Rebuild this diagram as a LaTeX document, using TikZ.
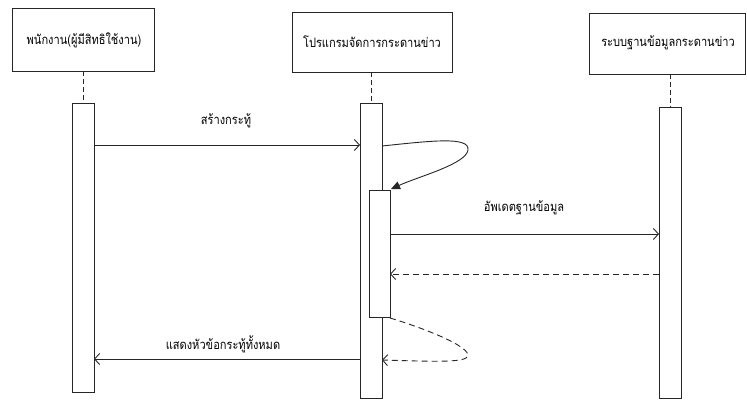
\documentclass[tikz,border=0pt]{standalone}
\usepackage{fontspec}
\newfontfamily\thaifont[Script=Thai,FakeStretch=0.85]{Loma}
\usetikzlibrary{arrows.meta}
\tikzset{
  actor/.style={draw=black!85,line width=0.9pt,fill=white,inner sep=0pt},
  act/.style={draw=black!85,line width=0.9pt,fill=white},
  life/.style={draw=black!85,line width=0.9pt,dash pattern=on 5pt off 3pt},
  msg/.style={draw=black!85,line width=0.9pt,-{Straight Barb[length=5pt,width=11pt]}},
  ret/.style={msg,dash pattern=on 6pt off 4pt},
  lbl/.style={font=\thaifont\fontsize{13}{15}\selectfont,inner sep=0pt}
}
\begin{document}
\begin{tikzpicture}[x=1pt,y=-1pt]
\useasboundingbox (0,0) rectangle (747,402);
% actor boxes
\draw[actor] (12,8) rectangle (154,71);
\node[lbl] (a1) at (84,40) {พนักงาน(ผู้มีสิทธิใช้งาน)};
\draw[actor] (292,12) rectangle (452,72);
\node[lbl] (a2) at (372,42) {โปรแกรมจัดการกระดานข่าว};
\draw[actor] (589,13) rectangle (745,74);
\node[lbl] (a3) at (668,43) {ระบบฐานข้อมูลกระดานข่าว};
% lifelines
\coordinate (l1a) at (83,71); \coordinate (l1b) at (83,103);
\coordinate (l2a) at (371,72); \coordinate (l2b) at (371,103);
\coordinate (l3a) at (670,74); \coordinate (l3b) at (670,107);
\draw[life] (l1a) -- (l1b);
\draw[life] (l2a) -- (l2b);
\draw[life] (l3a) -- (l3b);
% activations
\draw[act] (72,103) rectangle (94,392);
\draw[act] (360,103) rectangle (382,398);
\draw[act] (369,190) rectangle (390,317);
\draw[act] (659,107) rectangle (681,398);
% coordinates for messages
\coordinate (m1s) at (94,145); \coordinate (m1e) at (360,145);
\coordinate (s1s) at (382,146); \coordinate (s1e) at (391,189);
\coordinate (m2s) at (390,234); \coordinate (m2e) at (659,234);
\coordinate (m3s) at (659,274); \coordinate (m3e) at (390,274);
\coordinate (s2s) at (390,318); \coordinate (s2e) at (382,360);
\coordinate (m4s) at (360,359); \coordinate (m4e) at (94,359);
% messages
\draw[msg] (m1s) -- (m1e);
\node[lbl] (t1) at (226,121) {สร้างกระทู้};
\draw[draw=black!85,line width=0.9pt,-{Triangle[length=9pt,width=8pt]}]
  (s1s) .. controls (430,141) and (470,136) .. (468,150)
        .. controls (466,164) and (420,176) .. (s1e);
\draw[msg] (m2s) -- (m2e);
\node[lbl] (t2) at (524,208) {อัพเดตฐานข้อมูล};
\draw[ret] (m3s) -- (m3e);
\draw[ret] (s2s) .. controls (430,330) and (478,350) .. (466,358)
        .. controls (458,363) and (420,361) .. (s2e);
\draw[msg] (m4s) -- (m4e);
\node[lbl] (t3) at (223,344) {แสดงหัวข้อกระทู้ทั้งหมด};
\end{tikzpicture}
\end{document}
